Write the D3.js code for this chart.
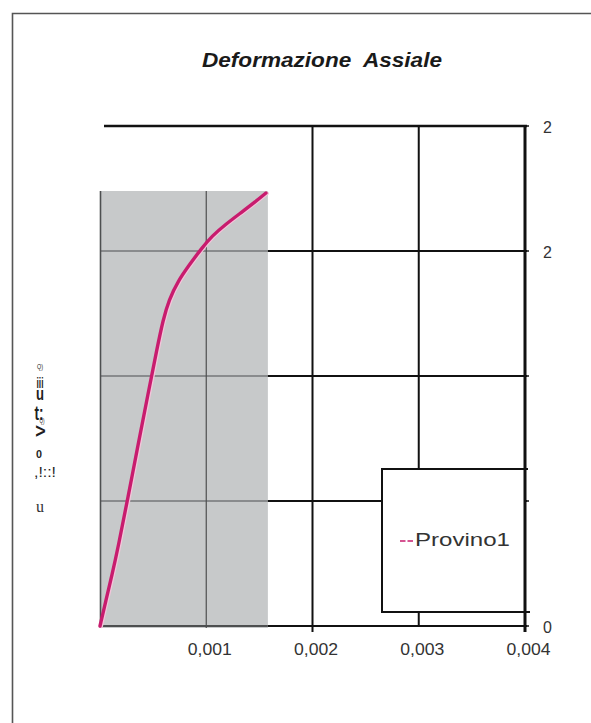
<!DOCTYPE html>
<html>
<head>
<meta charset="utf-8">
<script src="https://cdn.jsdelivr.net/npm/d3@7"></script>
<style>
  html, body { margin: 0; padding: 0; background: #fff; }
  svg { display: block; font-family: "Liberation Sans", Arial, sans-serif; }
</style>
</head>
<body>
<svg id="chart" width="591" height="723"></svg>
<script>
// Axial strain (x) vs. load (y) for specimen "Provino1"
const strain = [0, 0.0000565, 0.000113, 0.000169, 0.000264, 0.000358, 0.000452, 0.000536,
                0.000593, 0.000649, 0.000734, 0.000847, 0.000951, 0.001054, 0.001186,
                0.001336, 0.001459, 0.001562];
const load   = [0, 0.104, 0.204, 0.312, 0.516, 0.724, 0.928, 1.108,
                1.224, 1.304, 1.38, 1.448, 1.508, 1.56, 1.608,
                1.656, 1.696, 1.732];

const xTicks = [0.001, 0.002, 0.003, 0.004];
const xTickLabels = ["0,001", "0,002", "0,003", "0,004"];
const yTicks = [0, 0.5, 1, 1.5, 2];
const yTickLabels = ["0", "", "", "2", "2"];
const seriesName = "Provino1";
const chartTitle = "Deformazione  Assiale";
// shaded inner panel extent (strain, load)
const panelStrain = [0, 0.00158];
const panelLoad = [-0.008, 1.74];

const svg = d3.select("#chart");
const x = d3.scaleLinear().domain([0, 0.004]).range([100, 525]);
const y = d3.scaleLinear().domain([0, 2]).range([626, 126]);

// outer frame
svg.append("path")
  .attr("d", "M12.5,723 V13.5 H591")
  .attr("fill", "none").attr("stroke", "#555").attr("stroke-width", 1.6);

// title
svg.append("text")
  .attr("x", 322).attr("y", 67)
  .attr("text-anchor", "middle")
  .attr("font-size", 20).attr("font-weight", "bold").attr("font-style", "italic")
  .attr("fill", "#1a1a1a")
  .style("white-space", "pre")
  .attr("textLength", 240).attr("lengthAdjust", "spacingAndGlyphs")
  .text(chartTitle);

const outer = svg.append("g").attr("stroke", "#111").attr("fill", "none");

// outer horizontal gridlines
yTicks.forEach((v, i) => {
  outer.append("line")
    .attr("x1", i === yTicks.length - 1 ? x(0) + 4 : x(0)).attr("x2", x(0.004) + 2)
    .attr("y1", y(v)).attr("y2", y(v))
    .attr("stroke-width", i === yTicks.length - 1 ? 2.6 : 2);
});
// outer vertical gridlines
[0.002, 0.003].forEach(v => {
  outer.append("line")
    .attr("x1", x(v)).attr("x2", x(v))
    .attr("y1", y(2)).attr("y2", y(0) + (v === 0.002 ? 6 : 0))
    .attr("stroke-width", 2);
});

// shaded panel
const panel = svg.append("g");
panel.append("rect")
  .attr("x", x(panelStrain[0])).attr("y", y(panelLoad[1]))
  .attr("width", x(panelStrain[1]) - x(panelStrain[0]))
  .attr("height", y(panelLoad[0]) - y(panelLoad[1]))
  .attr("fill", "#c7c9ca");
const pg = panel.append("g").attr("stroke", "#4d4f50").attr("stroke-width", 1.2);
[0.5, 1, 1.5].forEach(v => {
  pg.append("line").attr("x1", x(panelStrain[0])).attr("x2", x(panelStrain[1]))
    .attr("y1", y(v)).attr("y2", y(v));
});
pg.append("line").attr("x1", x(panelStrain[0])).attr("x2", x(panelStrain[1]))
  .attr("y1", y(0)).attr("y2", y(0)).attr("stroke-width", 1.8);
pg.append("line").attr("x1", x(0.001)).attr("x2", x(0.001))
  .attr("y1", y(panelLoad[1])).attr("y2", y(panelLoad[0]));
pg.append("line").attr("x1", x(0) + 0.5).attr("x2", x(0) + 0.5)
  .attr("y1", y(panelLoad[1])).attr("y2", y(panelLoad[0])).attr("stroke-width", 1.6);

// curve
const pts = strain.map((s, i) => [s, load[i]]);
const line = d3.line().x(d => x(d[0])).y(d => y(d[1])).curve(d3.curveBasis);
svg.append("path").datum(pts)
  .attr("d", line).attr("transform", "translate(1.2,0.4)")
  .attr("fill", "none").attr("stroke", "#f4c4da").attr("stroke-width", 3.5)
  .attr("stroke-linecap", "round");
svg.append("path").datum(pts)
  .attr("d", line)
  .attr("fill", "none").attr("stroke", "#c81c6e").attr("stroke-width", 3.4)
  .attr("stroke-linecap", "round");

// legend box
const lg = { left: 382, top: 469, right: 525, bottom: 612 };
svg.append("rect")
  .attr("x", lg.left).attr("y", lg.top)
  .attr("width", lg.right - lg.left).attr("height", lg.bottom - lg.top)
  .attr("fill", "#fff");
svg.append("path")
  .attr("d", `M${lg.right + 3},${lg.top} H${lg.left} V${lg.bottom} H${lg.right + 5}`)
  .attr("fill", "none").attr("stroke", "#111").attr("stroke-width", 2);
svg.append("line")
  .attr("x1", lg.left + 18).attr("x2", lg.left + 33)
  .attr("y1", 541).attr("y2", 541)
  .attr("stroke", "#c81c6e").attr("stroke-width", 1.3).attr("stroke-dasharray", "5.5,2");
svg.append("text")
  .attr("x", lg.left + 33).attr("y", 546)
  .attr("font-size", 18).attr("fill", "#333")
  .attr("textLength", 95).attr("lengthAdjust", "spacingAndGlyphs")
  .text(seriesName);

// right value axis
svg.append("line")
  .attr("x1", x(0.004)).attr("x2", x(0.004))
  .attr("y1", y(2) - 1).attr("y2", y(0) + 6)
  .attr("stroke", "#111").attr("stroke-width", 3);
yTicks.forEach(v => {
  svg.append("line").attr("x1", x(0.004)).attr("x2", x(0.004) + 4)
    .attr("y1", y(v)).attr("y2", y(v)).attr("stroke", "#111").attr("stroke-width", 1.5);
});
svg.append("g")
  .attr("transform", `translate(${x(0.004) + 18},0)`)
  .call(d3.axisRight(y).tickValues(yTicks).tickSize(0).tickPadding(0)
        .tickFormat((d, i) => yTickLabels[i]))
  .call(g => g.select(".domain").remove())
  .selectAll("text")
  .attr("font-size", 16).attr("fill", "#333")
  .attr("font-family", "Liberation Sans, Arial, sans-serif")
  .attr("dy", "0.38em");

// bottom strain axis labels
svg.append("g")
  .attr("transform", `translate(0,${y(0)})`)
  .call(d3.axisBottom(x).tickValues(xTicks).tickSize(0).tickPadding(18)
        .tickFormat((d, i) => xTickLabels[i]))
  .call(g => g.select(".domain").remove())
  .selectAll("text")
  .attr("font-size", 16).attr("fill", "#333")
  .attr("font-family", "Liberation Sans, Arial, sans-serif")
  .attr("textLength", 44).attr("lengthAdjust", "spacingAndGlyphs")
  .attr("dx", 3);

// vertical axis title glyphs
const yt = svg.append("g").attr("fill", "#1e1e1e");
const glyphs = [
  { t: "Q)", x: 40, y: 369, s: 8, w: "normal", len: 6 },
  { t: "iii", x: 40, y: 388, s: 14, w: "bold", len: 7 },
  { t: "u", x: 40, y: 400, s: 18, w: "bold", len: 8 },
  { t: "t:", x: 39, y: 420, s: 20, w: "bold", len: 9 },
  { t: "Q)", x: 42, y: 423, s: 8, w: "normal", len: 5 },
  { t: "0", x: 39, y: 458, s: 11, w: "bold", len: 6 },
  { t: ",!::!", x: 45, y: 477, s: 15, w: "normal", len: 22 }
];
glyphs.forEach(g => {
  yt.append("text").attr("x", g.x).attr("y", g.y)
    .attr("text-anchor", "middle")
    .attr("font-size", g.s).attr("font-weight", g.w)
    .attr("textLength", g.len).attr("lengthAdjust", "spacingAndGlyphs")
    .text(g.t);
});
yt.append("text")
  .attr("transform", "translate(40,431) rotate(-90)")
  .attr("text-anchor", "middle").attr("dy", "0.36em")
  .attr("font-size", 13).attr("font-weight", "bold")
  .attr("textLength", 12).attr("lengthAdjust", "spacingAndGlyphs")
  .text("V");
yt.append("text")
  .attr("x", 40).attr("y", 512).attr("text-anchor", "middle")
  .attr("font-family", "Liberation Serif, serif").attr("font-size", 16).attr("fill", "#333")
  .text("u");
</script>
</body>
</html>
